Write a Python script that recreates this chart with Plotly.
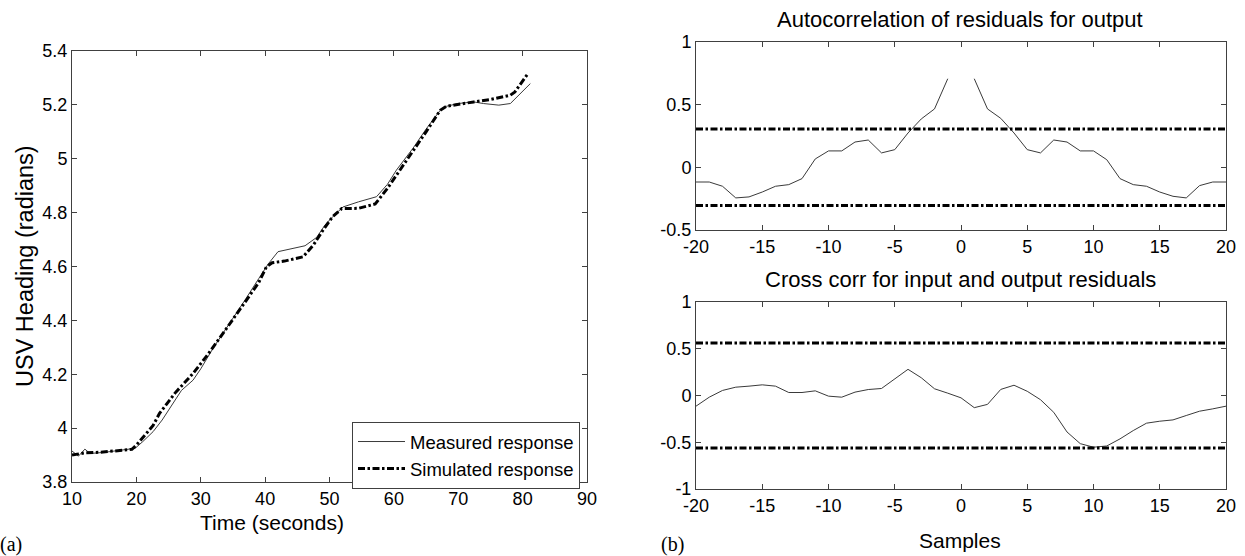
import plotly.graph_objects as go

W, H = 1245, 556

# ---------------- data: left panel (a) ----------------
meas_t = [10.0, 10.5, 11.0, 12.0, 12.8, 15.0, 18.0, 19.8, 21.0, 22.6, 24.0, 25.7, 27.0, 28.8,
          30.0, 31.9, 33.0, 35.0, 37.0, 39.0, 40.5, 42.0, 44.0, 46.2, 48.0, 49.3, 50.5, 52.1,
          54.5, 57.3, 59.0, 60.4, 63.0, 65.0, 67.2, 68.2, 70.0, 72.4, 73.9, 76.3, 78.1, 79.5, 81.2]
meas_y = [3.915, 3.905, 3.896, 3.922, 3.906, 3.910, 3.918, 3.925, 3.950, 3.987, 4.030, 4.092,
          4.140, 4.178, 4.220, 4.296, 4.335, 4.410, 4.480, 4.555, 4.610, 4.655, 4.665, 4.677,
          4.708, 4.754, 4.785, 4.821, 4.840, 4.859, 4.905, 4.958, 5.040, 5.110, 5.180, 5.195,
          5.205, 5.211, 5.205, 5.199, 5.205, 5.240, 5.279]

sim_t = [10.0, 12.2, 14.1, 17.0, 19.3, 20.0, 21.0, 22.6, 23.6, 26.0, 28.8, 31.0, 34.0, 37.0,
         39.0, 40.2, 41.1, 43.0, 45.9, 47.5, 49.0, 50.5, 51.9, 54.5, 57.1, 59.0, 61.0, 63.0,
         65.0, 67.2, 68.2, 70.0, 72.4, 75.0, 78.1, 78.8, 79.8, 80.9]
sim_y = [3.900, 3.909, 3.910, 3.916, 3.921, 3.937, 3.965, 4.010, 4.055, 4.130, 4.203, 4.270,
         4.370, 4.470, 4.540, 4.599, 4.614, 4.620, 4.636, 4.680, 4.735, 4.785, 4.815, 4.816,
         4.832, 4.890, 4.958, 5.030, 5.100, 5.180, 5.195, 5.203, 5.211, 5.220, 5.236, 5.248,
         5.280, 5.319]

left_xticks = [10, 20, 30, 40, 50, 60, 70, 80, 90]
left_xtext = ["10", "20", "30", "40", "50", "60", "70", "80", "90"]
left_yticks = [3.8, 4.0, 4.2, 4.4, 4.6, 4.8, 5.0, 5.2, 5.4]
left_ytext = ["3.8", "4", "4.2", "4.4", "4.6", "4.8", "5", "5.2", "5.4"]

# ---------------- data: right panels (b) ----------------
lags = list(range(-20, 21))
autocorr = [-0.117, -0.117, -0.151, -0.244, -0.236, -0.197, -0.151, -0.138, -0.090, 0.067,
            0.131, 0.131, 0.202, 0.218, 0.115, 0.141, 0.274, 0.386, 0.466, 0.707,
            None,
            0.707, 0.466, 0.391, 0.274, 0.141, 0.115, 0.218, 0.202, 0.131, 0.131,
            0.061, -0.090, -0.138, -0.151, -0.197, -0.231, -0.244, -0.146, -0.117, -0.117]
auto_conf = 0.305

crosscorr = [-0.114, -0.018, 0.054, 0.089, 0.100, 0.114, 0.100, 0.032, 0.032, 0.050,
             -0.007, -0.018, 0.036, 0.064, 0.075, 0.178, 0.280, 0.190, 0.072, 0.025,
             -0.025,
             -0.130, -0.095, 0.065, 0.110, 0.045, -0.045, -0.180, -0.390, -0.515, -0.553,
             -0.540, -0.464, -0.375, -0.296, -0.275, -0.261, -0.214, -0.168, -0.143, -0.114]
cross_conf = 0.562

lag_ticks = [-20, -15, -10, -5, 0, 5, 10, 15, 20]
lag_text = ["-20", "-15", "-10", "-5", "0", "5", "10", "15", "20"]
top_yticks = [-0.5, 0, 0.5, 1]
top_ytext = ["-0.5", "0", "0.5", "1"]
bot_yticks = [-1, -0.5, 0, 0.5, 1]
bot_ytext = ["-1", "-0.5", "0", "0.5", "1"]

# ---------------- figure ----------------
FONT = "Liberation Sans, Arial, sans-serif"
SERIF = "Liberation Serif, Times New Roman, serif"
AX = "#404040"
DASHDOT = "7px,2.5px,2.5px,2.5px"


def px_x(p):
    return p / W


def px_y(p):
    return 1 - p / H


fig = go.Figure()

fig.add_trace(go.Scatter(x=meas_t, y=meas_y, mode="lines", name="Measured response",
                         line=dict(color="#3a3a3a", width=1), xaxis="x", yaxis="y"))
fig.add_trace(go.Scatter(x=sim_t, y=sim_y, mode="lines", name="Simulated response",
                         line=dict(color="black", width=3, dash=DASHDOT), xaxis="x", yaxis="y"))

fig.add_trace(go.Scatter(x=lags, y=autocorr, mode="lines", showlegend=False,
                         line=dict(color="#3a3a3a", width=1), xaxis="x2", yaxis="y2",
                         connectgaps=False))
fig.add_trace(go.Scatter(x=[lags[0], lags[-1]], y=[auto_conf, auto_conf], mode="lines",
                         showlegend=False, line=dict(color="black", width=3, dash=DASHDOT),
                         xaxis="x2", yaxis="y2"))
fig.add_trace(go.Scatter(x=[lags[0], lags[-1]], y=[-auto_conf, -auto_conf], mode="lines",
                         showlegend=False, line=dict(color="black", width=3, dash=DASHDOT),
                         xaxis="x2", yaxis="y2"))

fig.add_trace(go.Scatter(x=lags, y=crosscorr, mode="lines", showlegend=False,
                         line=dict(color="#3a3a3a", width=1), xaxis="x3", yaxis="y3"))
fig.add_trace(go.Scatter(x=[lags[0], lags[-1]], y=[cross_conf, cross_conf], mode="lines",
                         showlegend=False, line=dict(color="black", width=3, dash=DASHDOT),
                         xaxis="x3", yaxis="y3"))
fig.add_trace(go.Scatter(x=[lags[0], lags[-1]], y=[-cross_conf, -cross_conf], mode="lines",
                         showlegend=False, line=dict(color="black", width=3, dash=DASHDOT),
                         xaxis="x3", yaxis="y3"))


def axis(domain, rng, tv, tt, anchor):
    return dict(domain=domain, range=rng, tickvals=tv, ticktext=tt, anchor=anchor,
                automargin=False,
                showgrid=False, zeroline=False, showline=True, linecolor=AX, linewidth=1,
                mirror="allticks", ticks="inside", ticklen=5, tickcolor=AX, tickwidth=1,
                tickfont=dict(family=FONT, size=18, color="black"))


fig.update_layout(
    width=W, height=H, margin=dict(l=0, r=0, t=0, b=0, autoexpand=False),
    paper_bgcolor="white", plot_bgcolor="white",
    xaxis=axis([px_x(72), px_x(587)], [10, 90], left_xticks, left_xtext, "y"),
    yaxis=axis([px_y(482), px_y(51)], [3.8, 5.4], left_yticks, left_ytext, "x"),
    xaxis2=axis([px_x(696), px_x(1226)], [-20, 20], lag_ticks, lag_text, "y2"),
    yaxis2=axis([px_y(230), px_y(42)], [-0.5, 1], top_yticks, top_ytext, "x2"),
    xaxis3=axis([px_x(696), px_x(1226)], [-20, 20], lag_ticks, lag_text, "y3"),
    yaxis3=axis([px_y(489), px_y(302)], [-1, 1], bot_yticks, bot_ytext, "x3"),
    showlegend=True,
    legend=dict(x=px_x(352), y=px_y(422), xanchor="left", yanchor="top",
                bgcolor="white", bordercolor=AX, borderwidth=1, itemwidth=47,
                font=dict(family=FONT, size=18.5, color="black"), tracegroupgap=0),
)

ann = [
    dict(text="USV Heading (radians)", x=px_x(25), y=px_y(266), textangle=-90, size=23.5,
         family=FONT),
    dict(text="Time (seconds)", x=px_x(272), y=px_y(522), size=21, family=FONT),
    dict(text="Autocorrelation of residuals for output", x=px_x(960), y=px_y(19), size=22,
         family=FONT),
    dict(text="Cross corr for input and output residuals", x=px_x(960), y=px_y(279), size=22,
         family=FONT),
    dict(text="Samples", x=px_x(960), y=px_y(540), size=21, family=FONT),
    dict(text="(a)", x=px_x(11), y=px_y(544), size=20, family=SERIF),
    dict(text="(b)", x=px_x(672), y=px_y(544), size=20, family=SERIF),
]
for a in ann:
    fig.add_annotation(text=a["text"], x=a["x"], y=a["y"], xref="paper", yref="paper",
                       xanchor="center", yanchor="middle", showarrow=False,
                       textangle=a.get("textangle", 0),
                       font=dict(family=a["family"], size=a["size"], color="black"))

fig.write_html("out.html")
